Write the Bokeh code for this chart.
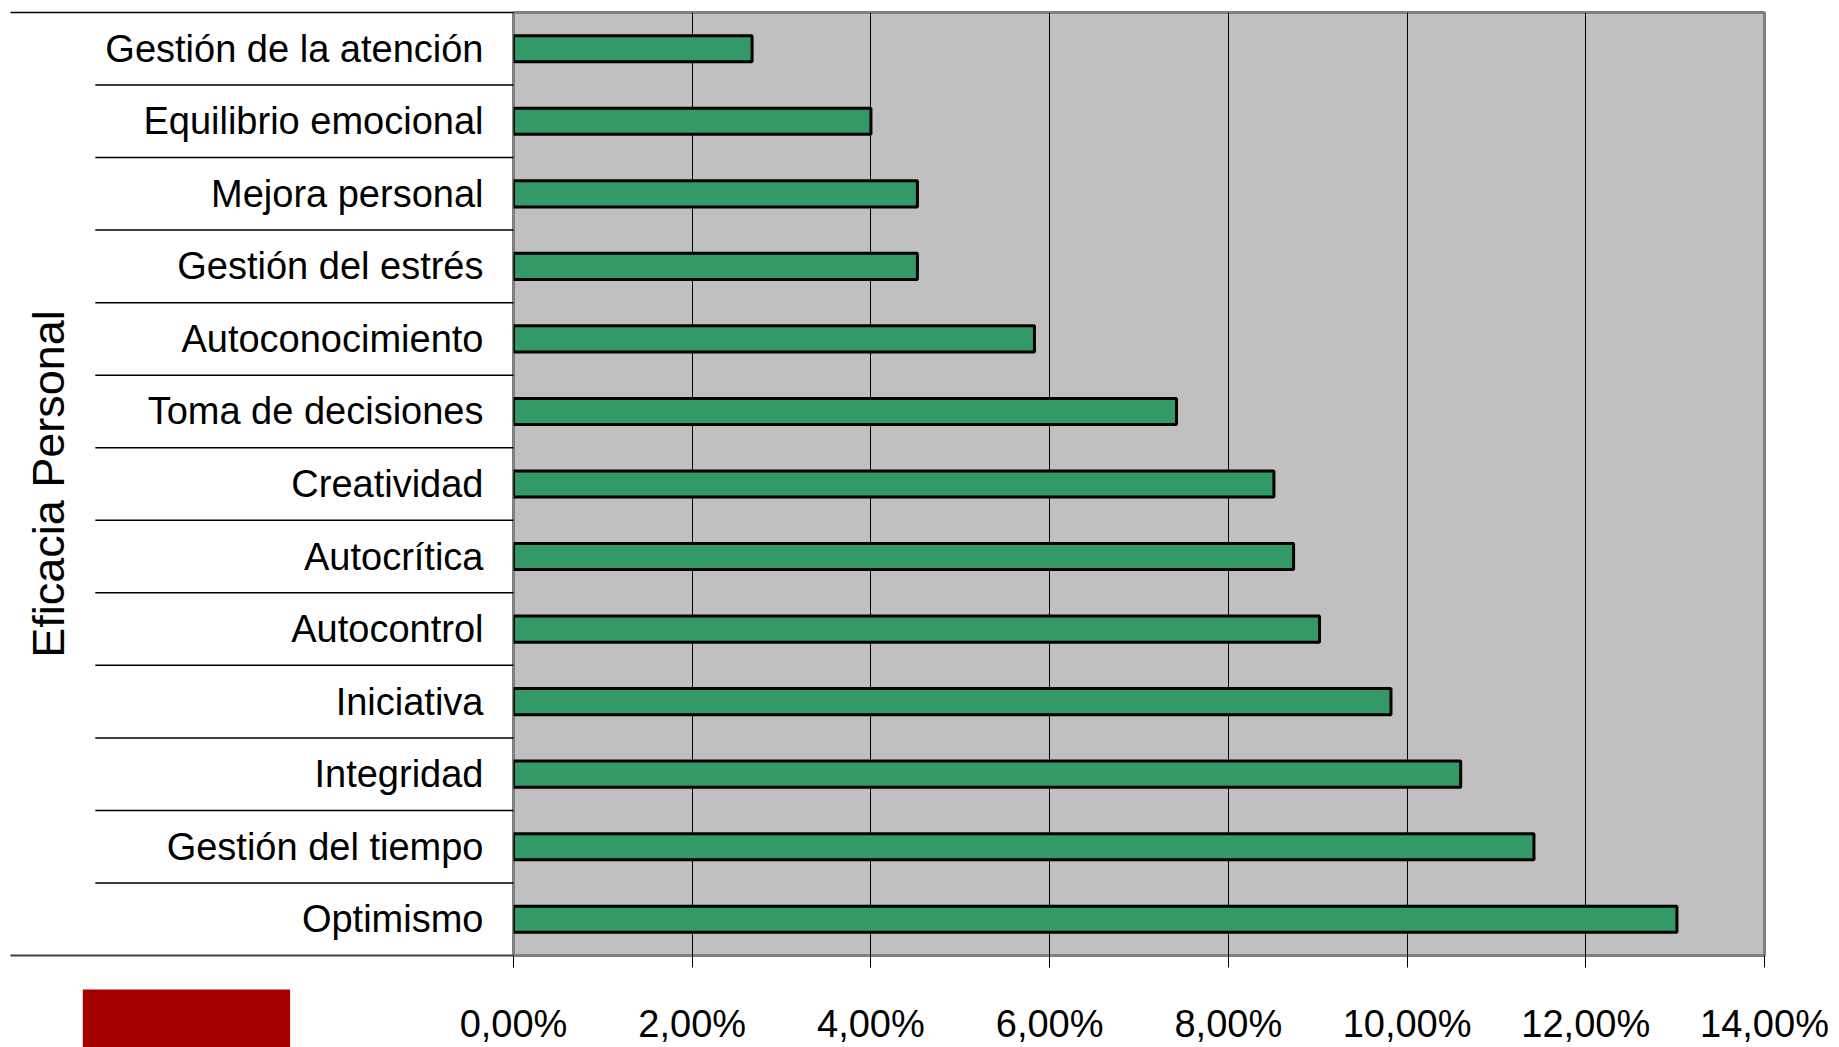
from bokeh.plotting import figure
from bokeh.models import Range1d, FixedTicker
from bokeh.embed import file_html
from bokeh.resources import INLINE

# ---- data (bottom to top) ----
categories = ["Optimismo", "Gestión del tiempo", "Integridad", "Iniciativa",
              "Autocontrol", "Autocrítica", "Creatividad", "Toma de decisiones",
              "Autoconocimiento", "Gestión del estrés", "Mejora personal",
              "Equilibrio emocional", "Gestión de la atención"]
values = [13.02, 11.42, 10.60, 9.82, 9.02, 8.73, 8.51, 7.42, 5.83, 4.52, 4.52, 4.00, 2.67]
x_ticks = [0, 2, 4, 6, 8, 10, 12, 14]
x_tick_labels = ["0,00%", "2,00%", "4,00%", "6,00%", "8,00%", "10,00%", "12,00%", "14,00%"]
y_title = "Eficacia Personal"

n = len(categories)
centers = [i + 0.5 for i in range(n)]
bounds_all = list(range(0, n + 1))

p = figure(width=1839, height=1047,
           x_range=Range1d(0, 14), y_range=Range1d(0, n),
           output_backend="svg", toolbar_location=None,
           min_border_left=513, min_border_right=75,
           min_border_top=12, min_border_bottom=90,
           background_fill_color="#C0C0C0", border_fill_color="white",
           outline_line_color="#808080", outline_line_width=3)

p.hbar(y=centers, left=0, right=values, height=0.36,
       fill_color="#339966", line_color="black", line_width=3)

# x axis
xa = p.xaxis[0]
xa.ticker = FixedTicker(ticks=x_ticks)
xa.major_label_overrides = {t: l for t, l in zip(x_ticks, x_tick_labels)}
xa.axis_line_color = None
xa.major_tick_out = 12
xa.major_tick_in = 0
xa.major_tick_line_color = "black"
xa.major_tick_line_width = 1
xa.minor_tick_line_color = None
xa.major_label_standoff = 35
xa.major_label_text_font = "Liberation Sans"
xa.major_label_text_font_size = "38px"
xa.major_label_text_color = "black"

# y axis (category labels)
ya = p.yaxis[0]
ya.ticker = FixedTicker(ticks=centers)
ya.major_label_overrides = {c: name for c, name in zip(centers, categories)}
ya.axis_line_color = None
ya.major_tick_out = 0
ya.major_tick_in = 0
ya.major_tick_line_color = None
ya.minor_tick_line_color = None
ya.major_label_standoff = 30
ya.major_label_text_font = "Liberation Sans"
ya.major_label_text_font_size = "38px"
ya.major_label_text_color = "black"
ya.axis_label = y_title
ya.axis_label_text_font = "Liberation Sans"
ya.axis_label_text_font_size = "45px"
ya.axis_label_text_font_style = "normal"
ya.axis_label_text_color = "black"
ya.axis_label_standoff = 28

# grid
p.xgrid.grid_line_color = "black"
p.xgrid.grid_line_width = 1
p.ygrid.grid_line_color = None

# category separator lines in the label area (drawn outside the frame clip)
x0s = [-5.63 if b in (0, n) else -4.68 for b in bounds_all]
colors = ["#404040" if b == 0 else "black" for b in bounds_all]
widths = [2 if b == 0 else 1.5 for b in bounds_all]
p.segment(x0=x0s, y0=bounds_all, x1=[0] * len(bounds_all), y1=bounds_all,
          line_color=colors, line_width=widths, level="overlay")

# red legend key (clipped at the bottom of the page)
p.quad(left=[-4.82], right=[-2.50], top=[-0.468], bottom=[-1.5],
       fill_color="#A50000", line_color=None, level="overlay")

open("out.html", "w").write(file_html(p, INLINE))
